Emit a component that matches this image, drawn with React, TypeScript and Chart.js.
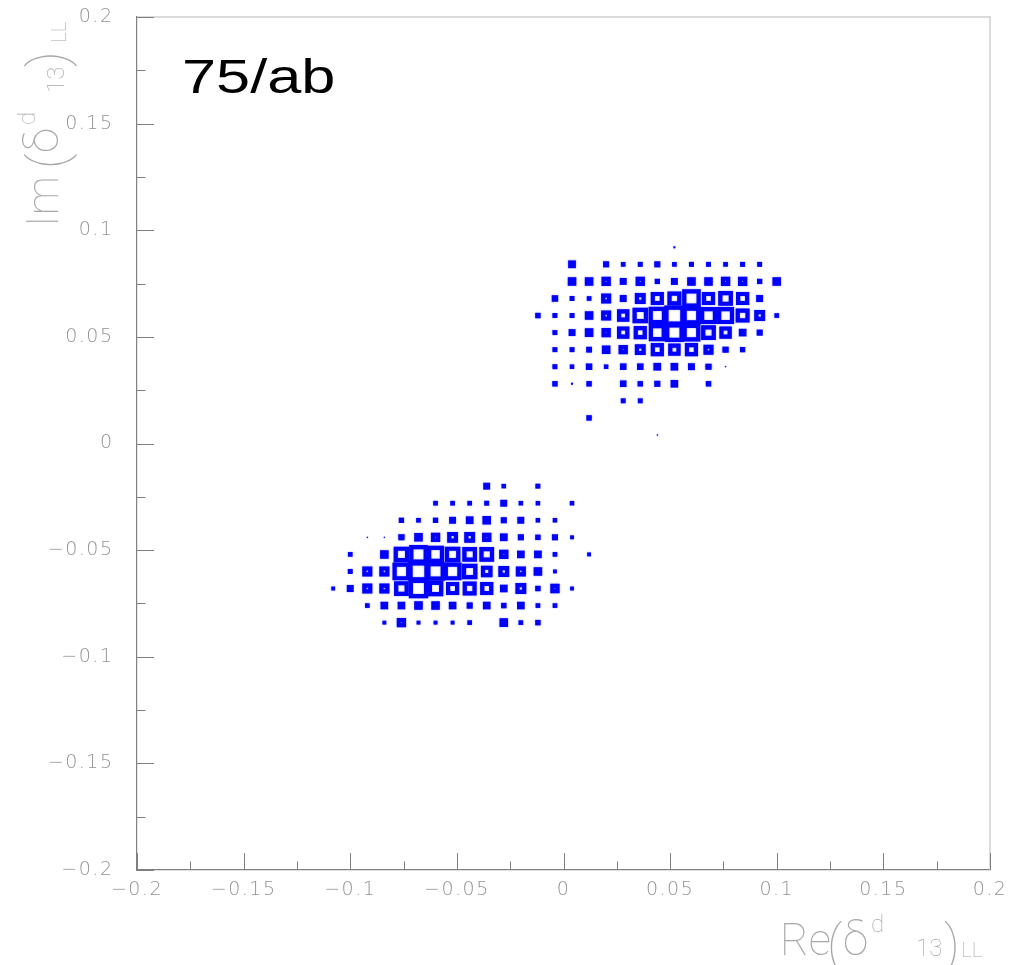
import React, { useEffect, useRef } from 'react';
import { Chart, registerables } from 'chart.js';

Chart.register(...registerables);

// ---------------- data ----------------
const BIN_WIDTH = 0.008;
const COUNT_MAX = 44;

const upperX = [-0.012, -0.004, 0.004, 0.012, 0.02, 0.028, 0.036, 0.044, 0.052, 0.06, 0.068, 0.076, 0.084, 0.092, 0.1];
const upperY = [0.092, 0.084, 0.076, 0.068, 0.06, 0.052, 0.044, 0.036, 0.028, 0.02, 0.012, 0.004];
const upperCounts = [
  [0, 0, 0, 0, 0, 0, 0, 0, 5, 0, 0, 0, 0, 0, 0],
  [0, 0, 20, 0, 16, 12, 13, 16, 12, 13, 13, 12, 13, 13, 0],
  [0, 0, 22, 22, 24, 18, 24, 14, 18, 22, 22, 24, 24, 14, 22],
  [0, 17, 13, 12, 26, 18, 28, 34, 36, 48, 34, 38, 34, 18, 0],
  [14, 13, 13, 22, 26, 32, 40, 45, 52, 46, 44, 44, 36, 28, 12],
  [0, 13, 18, 22, 24, 32, 34, 44, 48, 46, 38, 32, 20, 16, 0],
  [0, 13, 13, 15, 22, 24, 28, 34, 32, 34, 26, 16, 14, 0, 0],
  [0, 13, 12, 17, 12, 17, 17, 20, 20, 18, 16, 4, 0, 0, 0],
  [0, 14, 5, 14, 0, 17, 14, 16, 20, 0, 14, 0, 0, 0, 0],
  [0, 0, 0, 0, 0, 13, 13, 0, 0, 0, 0, 0, 0, 0, 0],
  [0, 0, 0, 14, 0, 0, 0, 0, 0, 0, 0, 0, 0, 0, 0],
  [0, 0, 0, 0, 0, 0, 0, 4, 0, 0, 0, 0, 0, 0, 0],
];

const lowerX = [-0.108, -0.1, -0.092, -0.084, -0.076, -0.068, -0.06, -0.052, -0.044, -0.036, -0.028, -0.02, -0.012, -0.004, 0.004, 0.012];
const lowerY = [-0.02, -0.028, -0.036, -0.044, -0.052, -0.06, -0.068, -0.076, -0.084];
const lowerCounts = [
  [0, 0, 0, 0, 0, 0, 0, 0, 0, 18, 12, 0, 13, 0, 0, 0],
  [0, 0, 0, 0, 0, 0, 12, 12, 12, 13, 18, 12, 12, 0, 12, 0],
  [0, 0, 0, 0, 14, 12, 14, 18, 20, 22, 16, 18, 12, 12, 0, 0],
  [0, 0, 4, 4, 16, 22, 24, 28, 28, 24, 20, 16, 14, 16, 10, 0],
  [0, 12, 0, 22, 40, 48, 44, 40, 38, 38, 24, 20, 20, 12, 0, 10],
  [0, 13, 26, 26, 46, 52, 48, 46, 40, 30, 28, 26, 22, 10, 0, 0],
  [10, 18, 26, 26, 38, 50, 40, 34, 36, 34, 20, 28, 14, 24, 10, 0],
  [0, 0, 12, 20, 20, 22, 22, 20, 16, 20, 14, 20, 12, 12, 0, 0],
  [0, 0, 0, 10, 24, 10, 10, 10, 12, 0, 22, 12, 14, 0, 0, 0],
];

const xTickLabels = ['\u22120.2', '\u22120.15', '\u22120.1', '\u22120.05', '0', '0.05', '0.1', '0.15', '0.2'];
const yTickLabels = ['\u22120.2', '\u22120.15', '\u22120.1', '\u22120.05', '0', '0.05', '0.1', '0.15', '0.2'];
const annotationText = '75/ab';

// ---------------- helpers ----------------
type Cell = { x: number; y: number; v: number };

function toCells(xs: number[], ys: number[], counts: number[][]): Cell[] {
  const out: Cell[] = [];
  counts.forEach((row, i) => {
    row.forEach((v, j) => {
      if (v > 0) out.push({ x: xs[j], y: ys[i], v });
    });
  });
  return out;
}

const BOX_COLOR = '#0000ff';
const BOX_LINE = 4.2;

function boxGeom(ctx: any) {
  const raw = ctx && ctx.raw;
  const chart = ctx.chart;
  if (!raw || !chart || !chart.scales || !chart.scales.x) return { side: 1, bw: 1 };
  const xs = chart.scales.x;
  const binPx = Math.abs(xs.getPixelForValue(BIN_WIDTH) - xs.getPixelForValue(0));
  const visual = (raw.v / COUNT_MAX) * binPx;
  const bw = Math.min(BOX_LINE, visual * 0.6);
  const side = Math.max(visual - bw, 0.2);
  return { side, bw };
}

type Piece = { t: string; dx: number; dy: number; size: number };

const xTitlePieces: Piece[] = [
  { t: 'Re', dx: 0, dy: 0, size: 44 },
  { t: '(', dx: 47, dy: 7, size: 52 },
  { t: '\u03b4', dx: 63, dy: 0, size: 46 },
  { t: 'd', dx: 91, dy: -23, size: 24 },
  { t: '13', dx: 136, dy: 1, size: 24 },
  { t: ')', dx: 164, dy: 7, size: 52 },
  { t: 'LL', dx: 181, dy: 2, size: 21 },
];

const yTitlePieces: Piece[] = [
  { t: 'Im', dx: 0, dy: 0, size: 44 },
  { t: '(', dx: 58, dy: 7, size: 52 },
  { t: '\u03b4', dx: 74, dy: 0, size: 46 },
  { t: 'd', dx: 102, dy: -23, size: 24 },
  { t: '13', dx: 134, dy: 6, size: 24 },
  { t: ')', dx: 160, dy: 7, size: 52 },
  { t: 'LL', dx: 184, dy: 8, size: 21 },
];

const TITLE_FONT = 'Roboto';
const TITLE_COLOR = '#a8a8a8';
const AXIS_COLOR = '#808080';
const TICK_COLOR = '#939393';

function drawPieces(c: CanvasRenderingContext2D, pieces: Piece[]) {
  for (const p of pieces) {
    c.font = `100 ${p.size}px ${TITLE_FONT}`;
    c.fillText(p.t, p.dx, p.dy);
  }
}

const spacingPlugin = {
  id: 'tickSpacing',
  beforeDraw(chart: any) {
    (chart.ctx as any).letterSpacing = '1.5px';
  },
  beforeDatasetsDraw(chart: any) {
    const c: any = chart.ctx;
    c.save();
    c.letterSpacing = '0px';
    c.shadowColor = 'rgba(0,0,255,0.55)';
    c.shadowBlur = 1.5;
  },
  afterDatasetsDraw(chart: any) {
    chart.ctx.restore();
  },
};

const rootStylePlugin = {
  id: 'rootStyle',
  afterDraw(chart: any) {
    const c: any = chart.ctx;
    const { left, right, top, bottom } = chart.chartArea;
    const xs = chart.scales.x;
    const ys = chart.scales.y;
    c.save();
    c.letterSpacing = '0px';
    // light frame (top / right)
    c.strokeStyle = '#cfcfcf';
    c.lineWidth = 1.5;
    c.beginPath();
    c.moveTo(left, top);
    c.lineTo(right, top);
    c.lineTo(right, bottom);
    c.stroke();

    // inward ticks
    c.strokeStyle = AXIS_COLOR;
    c.lineWidth = 1;
    const major = 17;
    const minor = 8.5;
    const step = 0.05;
    c.beginPath();
    for (let k = 0; k <= 16; k++) {
      const val = -0.2 + (k * step) / 2;
      const len = k % 2 === 0 ? major : minor;
      const py = Math.round(ys.getPixelForValue(val)) + 0.5;
      c.moveTo(left, py);
      c.lineTo(left + len, py);
      const px = Math.round(xs.getPixelForValue(val)) + 0.5;
      c.moveTo(px, bottom);
      c.lineTo(px, bottom - len);
    }
    c.stroke();

    // axis titles
    c.fillStyle = TITLE_COLOR;
    c.textAlign = 'left';
    c.textBaseline = 'alphabetic';
    c.save();
    c.translate(780, 955);
    drawPieces(c, xTitlePieces);
    c.restore();
    c.save();
    c.translate(58, 227);
    c.rotate(-Math.PI / 2);
    drawPieces(c, yTitlePieces);
    c.restore();

    // annotation (source figure is horizontally stretched)
    c.fillStyle = '#000000';
    c.font = `49px 'Liberation Sans', Arial, sans-serif`;
    c.translate(182, 93);
    c.scale(1.25, 1);
    c.fillText(annotationText, 0, 0);
    c.restore();
  },
};

export default function App() {
  const ref = useRef<HTMLCanvasElement | null>(null);

  useEffect(() => {
    if (!ref.current) return;
    const points = [...toCells(upperX, upperY, upperCounts), ...toCells(lowerX, lowerY, lowerCounts)];
    const tickFont = { family: "'DejaVu Sans', sans-serif", size: 19, weight: '200' as any };
    const chart = new Chart(ref.current, {
      type: 'scatter',
      data: {
        datasets: [
          {
            data: points as any,
            pointStyle: 'rect',
            pointBackgroundColor: 'rgba(0,0,0,0)',
            pointBorderColor: BOX_COLOR,
            pointRadius: (ctx: any) => boxGeom(ctx).side / Math.SQRT2,
            pointHoverRadius: (ctx: any) => boxGeom(ctx).side / Math.SQRT2,
            pointBorderWidth: (ctx: any) => boxGeom(ctx).bw,
            pointHoverBorderWidth: (ctx: any) => boxGeom(ctx).bw,
          } as any,
        ],
      },
      options: {
        responsive: false,
        animation: false,
        devicePixelRatio: 1,
        events: [],
        layout: { padding: { top: 17, right: 29, left: 0, bottom: 0 } },
        plugins: { legend: { display: false }, tooltip: { enabled: false } },
        scales: {
          x: {
            type: 'linear',
            min: -0.2,
            max: 0.2,
            afterFit: (s: any) => {
              s.height = 95;
              s.paddingLeft = 0;
              s.paddingRight = 0;
            },
            ticks: {
              stepSize: 0.05,
              autoSkip: false,
              maxRotation: 0,
              padding: 9,
              color: TICK_COLOR,
              font: tickFont,
              callback: (_v: any, i: number) => xTickLabels[i],
            },
            grid: { display: false, drawTicks: false },
            border: { display: true, color: AXIS_COLOR, width: 1.2 },
          },
          y: {
            type: 'linear',
            min: -0.2,
            max: 0.2,
            afterFit: (s: any) => {
              s.width = 137;
              s.paddingTop = 0;
              s.paddingBottom = 0;
            },
            ticks: {
              stepSize: 0.05,
              autoSkip: false,
              padding: 23.5,
              color: TICK_COLOR,
              font: tickFont,
              callback: (_v: any, i: number) => yTickLabels[i],
            },
            grid: { display: false, drawTicks: false },
            border: { display: true, color: AXIS_COLOR, width: 1.2 },
          },
        },
      },
      plugins: [spacingPlugin, rootStylePlugin],
    });
    return () => chart.destroy();
  }, []);

  return (
    <div style={{ position: 'absolute', left: 0, top: 0, width: 1019, height: 965, background: '#fff' }}>
      <canvas ref={ref} width={1019} height={965} style={{ display: 'block', width: 1019, height: 965 }} />
    </div>
  );
}
